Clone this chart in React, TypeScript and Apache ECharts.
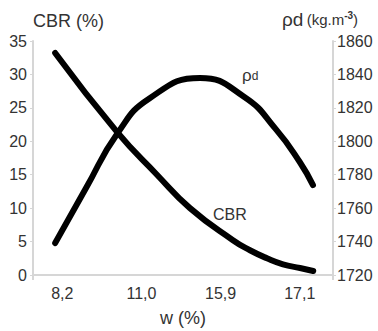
import React, { useEffect, useRef } from "react";
import * as echarts from "echarts";

// x-axis category labels (w, %)
const wLabels = ["8,2", "11,0", "15,9", "17,1"];

// CBR curve: position along w axis (category index units) and CBR %
const cbrX = [-0.09, 0.691, 1.196, 1.613, 2.156, 2.371, 2.586, 2.788, 3.003, 3.17];
const cbrY = [33.2, 21.4, 15.0, 10.0, 5.2, 3.7, 2.5, 1.6, 1.05, 0.6];

// dry density curve: position and rho_d (kg/m3)
const rhoX = [-0.09, 0.3, 0.7, 1.1, 1.74, 2.3, 2.7, 3.0, 3.167];
const rhoY = [1739.1, 1772, 1805, 1825.6, 1837.9, 1826.5, 1807.1, 1787.6, 1773.8];

const cbrTicks = { min: 0, max: 35, step: 5 };
const rhoTicks = { min: 1720, max: 1860, step: 20 };

const FONT = '"Liberation Sans", Arial, sans-serif';
const TXT = "#333333";
const AXIS = "#d6d6d6";

export default function App() {
  const ref = useRef<HTMLDivElement>(null);
  useEffect(() => {
    if (!ref.current) return;
    const chart = echarts.init(ref.current, null, { renderer: "svg" });
    const cbrData = cbrX.map((x, i) => [x, cbrY[i]]);
    const rhoData = rhoX.map((x, i) => [x, rhoY[i]]);
    chart.setOption({
      animation: false,
      backgroundColor: "#ffffff",
      grid: { left: 33, right: 45, top: 41, bottom: 56, outerBoundsMode: "none" },
      xAxis: {
        type: "value",
        min: -0.37,
        max: 3.42,
        name: "w (%)",
        nameLocation: "middle",
        nameGap: 34,
        nameTextStyle: { fontFamily: FONT, fontSize: 18, color: TXT },
        axisLine: { show: true, onZero: false, lineStyle: { color: AXIS, width: 2 } },
        axisTick: { show: true, customValues: [-0.37, 3.42], length: 5, lineStyle: { color: AXIS, width: 2 } },
        axisLabel: {
          customValues: [0, 1, 2, 3],
          formatter: (v: number) => wLabels[Math.round(v)] ?? "",
          fontFamily: FONT,
          fontSize: 16,
          color: TXT,
          margin: 10,
        },
        splitLine: { show: false },
      },
      yAxis: [
        {
          type: "value",
          position: "left",
          min: cbrTicks.min,
          max: cbrTicks.max,
          interval: cbrTicks.step,
          axisLine: { show: true, onZero: false, lineStyle: { color: AXIS, width: 2 } },
          axisTick: { show: true, length: 3, lineStyle: { color: AXIS, width: 1 } },
          axisLabel: { fontFamily: FONT, fontSize: 16, color: TXT, margin: 6, formatter: (v: number) => String(v) },
          splitLine: { show: false },
        },
        {
          type: "value",
          position: "right",
          min: rhoTicks.min,
          max: rhoTicks.max,
          interval: rhoTicks.step,
          axisLine: { show: true, onZero: false, lineStyle: { color: AXIS, width: 2 } },
          axisTick: { show: true, length: 3, lineStyle: { color: AXIS, width: 1 } },
          axisLabel: { fontFamily: FONT, fontSize: 16, color: TXT, margin: 4, formatter: (v: number) => String(v) },
          splitLine: { show: false },
        },
      ],
      series: [
        {
          name: "CBR",
          type: "line",
          yAxisIndex: 0,
          data: cbrData,
          smooth: 0.5,
          showSymbol: false,
          symbol: "none",
          lineStyle: { color: "#000", width: 6, cap: "round", join: "round" },
        },
        {
          name: "ρd",
          type: "line",
          yAxisIndex: 1,
          data: rhoData,
          smooth: 0.5,
          showSymbol: false,
          symbol: "none",
          lineStyle: { color: "#000", width: 6, cap: "round", join: "round" },
        },
      ],
      graphic: [
        {
          type: "text",
          x: 33,
          y: 21,
          style: {
            text: "CBR (%)",
            font: `18px ${FONT}`,
            fill: TXT,
            align: "left",
            verticalAlign: "middle",
            textAlign: "left",
            textVerticalAlign: "middle",
          },
        },
        {
          type: "text",
          x: 282,
          y: 19,
          style: {
            text: "{a|ρd} {b|(kg.m}{c|-3}{b|)}",
            fill: TXT,
            align: "left",
            verticalAlign: "middle",
            textAlign: "left",
            textVerticalAlign: "middle",
            rich: {
              a: { fontFamily: FONT, fontSize: 19, color: TXT },
              b: { fontFamily: FONT, fontSize: 15, color: TXT },
              c: { fontFamily: FONT, fontSize: 10, fontWeight: "bold", color: TXT, padding: [0, 0, 8, 0] },
            },
          },
        },
        {
          type: "text",
          x: 213,
          y: 214,
          style: {
            text: "CBR",
            font: `16px ${FONT}`,
            fill: TXT,
            align: "left",
            verticalAlign: "middle",
            textAlign: "left",
            textVerticalAlign: "middle",
          },
        },
        {
          type: "text",
          x: 242,
          y: 75,
          style: {
            text: "{a|ρ}{b|d}",
            fill: TXT,
            align: "left",
            verticalAlign: "middle",
            textAlign: "left",
            textVerticalAlign: "middle",
            rich: {
              a: { fontFamily: FONT, fontSize: 17, color: TXT, lineHeight: 18, verticalAlign: "bottom" },
              b: { fontFamily: FONT, fontSize: 12, color: TXT, lineHeight: 13, verticalAlign: "bottom", padding: [0, 0, 2, 0] },
            },
          },
        },
      ],
    });
    return () => chart.dispose();
  }, []);
  return (
    <div
      ref={ref}
      style={{ position: "fixed", left: 0, top: 0, width: 378, height: 331, background: "#fff" }}
    />
  );
}
